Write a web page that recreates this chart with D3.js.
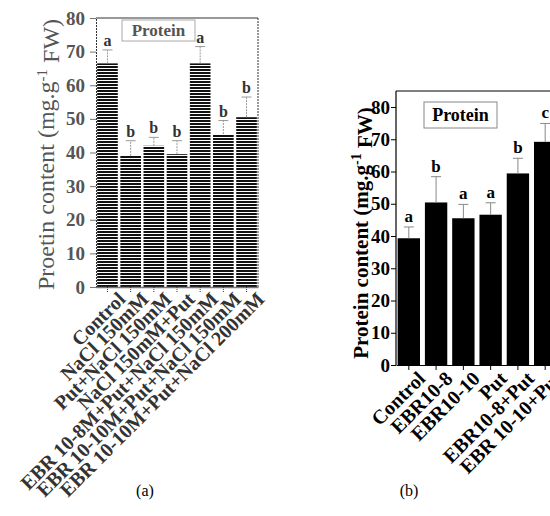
<!DOCTYPE html>
<html>
<head>
<meta charset="utf-8">
<script src="https://cdn.jsdelivr.net/npm/d3@7"></script>
<style>
    body { margin: 0; background: #fff; }
    svg { display: block; }
</style>
</head>
<body>
<div id="chart"></div>
<script>
'use strict';

var catsA = ['Control', 'NaCl 150mM', 'Put+NaCl 150mM', 'NaCl 150mM+Put', 'EBR 10-8M+Put+NaCl 150mM', 'EBR 10-10M+Put+NaCl 150mM', 'EBR 10-10M+Put+NaCl 200mM'];
var meanA = [66.5, 39, 42, 39.5, 66.5, 45.5, 50.5];
var errA = [4, 4.5, 2.5, 4, 5, 4, 6];
var letterA = ['a', 'b', 'b', 'b', 'a', 'b', 'b'];

var catsB = ['Control', 'EBR10-8', 'EBR10-10', 'Put', 'EBR10-8+Put', 'EBR 10-10+Put'];
var meanB = [39.3, 50.4, 45.5, 46.6, 59.4, 69.2];
var errB = [3.5, 8, 4.3, 3.7, 4.7, 5.7];
var letterB = ['a', 'b', 'a', 'a', 'b', 'c'];

var yTicks = [0, 10, 20, 30, 40, 50, 60, 70, 80];

var serif = 'Liberation Serif, Times New Roman, Times, serif';

var svg = d3.select('#chart').append('svg')
    .attr('width', 550)
    .attr('height', 516);

var pat = svg.append('defs').append('pattern')
    .attr('id', 'stripes')
    .attr('patternUnits', 'userSpaceOnUse')
    .attr('width', 4).attr('height', 3);
pat.append('rect').attr('width', 4).attr('height', 3).attr('fill', '#fff');
pat.append('rect').attr('width', 4).attr('height', 2).attr('fill', '#111');

drawA();
drawB();

svg.append('text').attr('x', 145).attr('y', 496)
    .attr('text-anchor', 'middle')
    .style('font-family', serif).style('font-size', '16px')
    .text('(a)');
svg.append('text').attr('x', 409).attr('y', 496)
    .attr('text-anchor', 'middle')
    .style('font-family', serif).style('font-size', '16px')
    .text('(b)');

function drawA() {
    var left = 96, right = 258, top = 18, bottom = 287;
    var x = d3.scaleBand().domain(catsA).range([left, right]).paddingInner(0.11).paddingOuter(0.05);
    var y = d3.scaleLinear().domain([0, 80]).range([bottom, top]);
    var g = svg.append('g');

    g.selectAll('.bar').data(meanA).enter().append('rect')
        .attr('x', function(d, i) { return x(catsA[i]); })
        .attr('y', function(d) { return y(d); })
        .attr('width', x.bandwidth())
        .attr('height', function(d) { return y(0) - y(d); })
        .attr('fill', 'url(#stripes)');

    var eb = g.selectAll('.err').data(meanA).enter().append('g');
    eb.append('line')
        .attr('x1', function(d, i) { return x(catsA[i]) + x.bandwidth() / 2; })
        .attr('x2', function(d, i) { return x(catsA[i]) + x.bandwidth() / 2; })
        .attr('y1', function(d) { return y(d); })
        .attr('y2', function(d, i) { return y(d + errA[i]); })
        .attr('stroke', '#999').attr('stroke-dasharray', '2,1');
    eb.append('line')
        .attr('x1', function(d, i) { return x(catsA[i]) + x.bandwidth() / 2 - 5; })
        .attr('x2', function(d, i) { return x(catsA[i]) + x.bandwidth() / 2 + 5; })
        .attr('y1', function(d, i) { return y(d + errA[i]); })
        .attr('y2', function(d, i) { return y(d + errA[i]); })
        .attr('stroke', '#999');
    eb.append('text')
        .attr('x', function(d, i) { return x(catsA[i]) + x.bandwidth() / 2; })
        .attr('y', function(d, i) { return y(d + errA[i]) - 4; })
        .attr('text-anchor', 'middle')
        .style('font-family', serif).style('font-size', '16px').style('font-weight', 'bold')
        .attr('fill', '#333')
        .text(function(d, i) { return letterA[i]; });

    g.append('line').attr('x1', left).attr('x2', right).attr('y1', top).attr('y2', top)
        .attr('stroke', '#777').attr('stroke-width', 1.5);
    g.append('line').attr('x1', right).attr('x2', right).attr('y1', top).attr('y2', bottom)
        .attr('stroke', '#333').attr('stroke-dasharray', '2,1');

    var ya = g.append('g')
        .attr('transform', 'translate(' + left + ',0)')
        .call(d3.axisLeft(y).tickValues(yTicks).tickSize(6).tickPadding(5));
    ya.select('.domain').attr('stroke', '#333').attr('stroke-dasharray', '2,1');
    ya.selectAll('.tick line').attr('stroke', '#777');
    ya.selectAll('text')
        .style('font-family', serif).style('font-size', '19px').style('font-weight', 'bold')
        .attr('fill', '#555');

    var xa = g.append('g')
        .attr('transform', 'translate(0,' + bottom + ')')
        .call(d3.axisBottom(x).tickSize(5).tickSizeOuter(0).tickPadding(6));
    xa.select('.domain').attr('stroke', '#777').attr('stroke-width', 1.5);
    xa.selectAll('.tick line').attr('stroke', '#333').attr('stroke-dasharray', '1,1');
    xa.selectAll('text')
        .attr('text-anchor', 'end')
        .attr('dx', '0.2em').attr('dy', '0.6em')
        .attr('transform', 'rotate(-45)')
        .style('font-family', serif).style('font-size', '20px').style('font-weight', 'bold')
        .attr('fill', '#333');

    g.append('rect').attr('x', 122).attr('y', 20).attr('width', 73).attr('height', 21)
        .attr('fill', '#fff').attr('stroke', '#aaa');
    g.append('text').attr('x', 158.5).attr('y', 36)
        .attr('text-anchor', 'middle')
        .style('font-family', serif).style('font-size', '17px').style('font-weight', 'bold')
        .attr('fill', '#555')
        .text('Protein');

    var lab = g.append('text')
        .attr('transform', 'translate(54,' + ((top + bottom) / 2 + 2) + ') rotate(-90)')
        .attr('text-anchor', 'middle')
        .style('font-family', serif).style('font-size', '24px')
        .attr('fill', '#555');
    lab.append('tspan').text('Proetin content (mg.g');
    lab.append('tspan').attr('dy', '-0.5em').style('font-size', '15px').text('-1');
    lab.append('tspan').attr('dy', '0.5em').text(' FW)');
}

function drawB() {
    var left = 396, right = 558, top = 91, bottom = 365;
    var x = d3.scaleBand().domain(catsB).range([left, right]).paddingInner(0.18).paddingOuter(0.06);
    var y = d3.scaleLinear().domain([0, 80]).range([bottom, bottom - 8 * 32.25]);
    var g = svg.append('g');

    g.selectAll('.bar').data(meanB).enter().append('rect')
        .attr('x', function(d, i) { return x(catsB[i]); })
        .attr('y', function(d) { return y(d); })
        .attr('width', x.bandwidth())
        .attr('height', function(d) { return y(0) - y(d); })
        .attr('fill', '#000');

    var eb = g.selectAll('.err').data(meanB).enter().append('g');
    eb.append('line')
        .attr('x1', function(d, i) { return x(catsB[i]) + x.bandwidth() / 2; })
        .attr('x2', function(d, i) { return x(catsB[i]) + x.bandwidth() / 2; })
        .attr('y1', function(d) { return y(d); })
        .attr('y2', function(d, i) { return y(d + errB[i]); })
        .attr('stroke', '#888');
    eb.append('line')
        .attr('x1', function(d, i) { return x(catsB[i]) + x.bandwidth() / 2 - 5; })
        .attr('x2', function(d, i) { return x(catsB[i]) + x.bandwidth() / 2 + 5; })
        .attr('y1', function(d, i) { return y(d + errB[i]); })
        .attr('y2', function(d, i) { return y(d + errB[i]); })
        .attr('stroke', '#888');
    eb.append('text')
        .attr('x', function(d, i) { return x(catsB[i]) + x.bandwidth() / 2; })
        .attr('y', function(d, i) { return y(d + errB[i]) - 5; })
        .attr('text-anchor', 'middle')
        .style('font-family', serif).style('font-size', '17px').style('font-weight', 'bold')
        .text(function(d, i) { return letterB[i]; });

    g.append('line').attr('x1', left).attr('x2', 550).attr('y1', top).attr('y2', top)
        .attr('stroke', '#000').attr('stroke-width', 1.2);

    var ya = g.append('g')
        .attr('transform', 'translate(' + left + ',0)')
        .call(d3.axisLeft(y).tickValues(yTicks).tickSize(5).tickPadding(1).tickSizeOuter(0));
    ya.select('.domain').attr('stroke', '#000').attr('stroke-width', 1.2)
        .attr('d', 'M0,' + top + 'V' + bottom);
    ya.selectAll('text')
        .style('font-family', serif).style('font-size', '19px').style('font-weight', 'bold');

    var xa = g.append('g')
        .attr('transform', 'translate(0,' + bottom + ')')
        .call(d3.axisBottom(x).tickSize(5).tickSizeOuter(0).tickPadding(4));
    xa.select('.domain').attr('stroke', '#000').attr('stroke-width', 1.2);
    xa.selectAll('text')
        .attr('text-anchor', 'end')
        .attr('dx', '0.1em').attr('dy', '0.7em')
        .attr('transform', 'rotate(-45)')
        .style('font-family', serif).style('font-size', '20px').style('font-weight', 'bold');

    g.append('rect').attr('x', 424).attr('y', 102).attr('width', 73).attr('height', 26)
        .attr('fill', '#fff').attr('stroke', '#888');
    g.append('text').attr('x', 460.5).attr('y', 121)
        .attr('text-anchor', 'middle')
        .style('font-family', serif).style('font-size', '18px').style('font-weight', 'bold')
        .text('Protein');

    var lab = g.append('text')
        .attr('transform', 'translate(368,' + ((top + bottom) / 2 + 5) + ') rotate(-90)')
        .attr('text-anchor', 'middle')
        .style('font-family', serif).style('font-size', '21px').style('font-weight', 'bold');
    lab.append('tspan').text('Protein content (mg.g');
    lab.append('tspan').attr('dy', '-0.5em').style('font-size', '14px').text('-1');
    lab.append('tspan').attr('dy', '0.5em').text(' FW)');
}
</script>
</body>
</html>
